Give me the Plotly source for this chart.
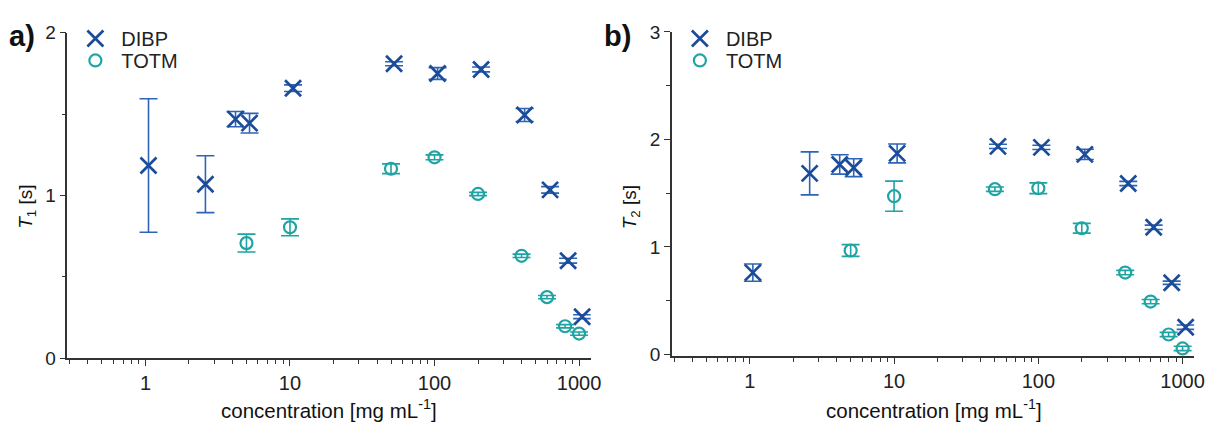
import plotly.graph_objects as go

# Concentrations [mg/mL]
dibp_conc = [1.05, 2.6, 4.2, 5.25, 10.5, 52.5, 105, 210, 420, 630, 840, 1050]
totm_conc = [5, 10, 50, 100, 200, 400, 600, 800, 1000]

# T1 relaxation times [s] with errors
dibp_t1 = [1.185, 1.07, 1.47, 1.445, 1.66, 1.81, 1.75, 1.775, 1.495, 1.035, 0.60, 0.256]
dibp_t1_err = [0.41, 0.175, 0.047, 0.06, 0.02, 0.012, 0.036, 0.015, 0.04, 0.02, 0.015, 0.012]
totm_t1 = [0.708, 0.805, 1.165, 1.235, 1.01, 0.63, 0.376, 0.197, 0.152]
totm_t1_err = [0.055, 0.052, 0.03, 0.015, 0.01, 0.01, 0.01, 0.01, 0.01]

# T2 relaxation times [s] with errors
dibp_t2 = [0.761, 1.684, 1.767, 1.737, 1.870, 1.935, 1.926, 1.861, 1.590, 1.183, 0.667, 0.254]
dibp_t2_err = [0.08, 0.20, 0.09, 0.083, 0.088, 0.02, 0.02, 0.047, 0.02, 0.02, 0.015, 0.02]
totm_t2 = [0.967, 1.472, 1.537, 1.546, 1.174, 0.762, 0.492, 0.186, 0.056]
totm_t2_err = [0.055, 0.14, 0.02, 0.05, 0.045, 0.02, 0.02, 0.02, 0.02]

x_tick_vals = [1, 10, 100, 1000]
x_tick_text = ["1", "10", "100", "1000"]

BLUE = "#1b4c9a"
BLUE_ERR = "#2e64b8"
TEAL = "#1fa3a3"
AXIS = "#333333"
FONT = "Liberation Sans, Arial, sans-serif"

W, H = 1222, 435

fig = go.Figure()


def add_series(x, y, err, name, xa, ya, legend, kind):
    if kind == "dibp":
        marker = dict(symbol="x-thin-open", size=16, color=BLUE,
                      line=dict(color=BLUE, width=2.7))
        ecol = BLUE_ERR
    else:
        marker = dict(symbol="circle-open", size=12, color=TEAL,
                      line=dict(color=TEAL, width=2.2))
        ecol = TEAL
    fig.add_trace(go.Scatter(
        x=x, y=y, mode="markers", name=name, marker=marker,
        error_y=dict(type="data", array=err, visible=True, color=ecol,
                     thickness=1.6, width=9),
        xaxis=xa, yaxis=ya, legend=legend, cliponaxis=False,
    ))


add_series(dibp_conc, dibp_t1, dibp_t1_err, "DIBP", "x", "y", "legend", "dibp")
add_series(totm_conc, totm_t1, totm_t1_err, "TOTM", "x", "y", "legend2", "totm")
add_series(dibp_conc, dibp_t2, dibp_t2_err, "DIBP", "x2", "y2", "legend3", "dibp")
add_series(totm_conc, totm_t2, totm_t2_err, "TOTM", "x2", "y2", "legend4", "totm")

xaxis_common = dict(
    type="log", range=[-0.54, 3.08], tickvals=x_tick_vals, ticktext=x_tick_text,
    showgrid=False, zeroline=False, showline=True, linecolor=AXIS, linewidth=1.5,
    ticks="outside", ticklen=6, tickwidth=1.3, tickcolor=AXIS,
    minor=dict(ticks="outside", ticklen=3.5, tickwidth=1, tickcolor=AXIS,
               tickvals=[m * 10 ** e for e in range(-1, 4) for m in range(2, 10)
                         if m * 10 ** e < 1200],
               showgrid=False),
    tickfont=dict(family=FONT, size=20, color="#222"),
)
yaxis_common = dict(
    showgrid=False, zeroline=False, showline=True, linecolor=AXIS, linewidth=1.5,
    ticks="outside", ticklen=6, tickwidth=1.3, tickcolor=AXIS, dtick=1,
    minor=dict(ticks="outside", ticklen=4, tickwidth=1, tickcolor=AXIS,
               dtick=0.5, showgrid=False),
    tickfont=dict(family=FONT, size=19, color="#222"),
)


def legend_at(px, py):
    return dict(x=px / W, y=1 - py / H, xanchor="left", yanchor="middle",
                bgcolor="rgba(0,0,0,0)", font=dict(family=FONT, size=20, color="#222"),
                itemwidth=42, borderwidth=0)


fig.update_layout(
    width=W, height=H,
    margin=dict(l=0, r=0, t=0, b=0),
    paper_bgcolor="white", plot_bgcolor="white",
    font=dict(family=FONT, size=19, color="#222"),
    xaxis=dict(**xaxis_common, domain=[68 / W, 596 / W], anchor="y"),
    yaxis=dict(**yaxis_common, range=[0, 2], domain=[1 - 366 / H, 1 - 24 / H],
               anchor="x"),
    xaxis2=dict(**xaxis_common, domain=[678 / W, 1205 / W], anchor="y2"),
    yaxis2=dict(**yaxis_common, range=[-0.018, 3],
                domain=[1 - 364 / H, 1 - 23 / H], anchor="x2"),
    legend=legend_at(70, 30),
    legend2=legend_at(70, 53),
    legend3=legend_at(680, 30),
    legend4=legend_at(680, 53),
    showlegend=True,
)

annotations = [
    dict(text="<b>a)</b>", x=7 / W, y=1 - 27 / H, font=dict(size=29)),
    dict(text="<b>b)</b>", x=607 / W, y=1 - 27 / H, font=dict(size=29)),
    dict(text="<i>T</i><sub>1</sub> [s]", x=27 / W, y=1 - 207 / H, textangle=-90,
         xanchor="center", font=dict(size=19)),
    dict(text="<i>T</i><sub>2</sub> [s]", x=637 / W, y=1 - 207 / H, textangle=-90,
         xanchor="center", font=dict(size=19)),
    dict(text="concentration [mg mL<sup>-1</sup>]", x=332 / W, y=1 - 419 / H,
         xanchor="center", font=dict(size=20.5)),
    dict(text="concentration [mg mL<sup>-1</sup>]", x=942 / W, y=1 - 419 / H,
         xanchor="center", font=dict(size=20.5)),
]
for a in annotations:
    a.setdefault("xanchor", "left")
    fig.add_annotation(xref="paper", yref="paper", showarrow=False,
                       yanchor="middle", font_family=FONT, font_color="#111",
                       **{k: v for k, v in a.items()})

fig.write_html("out.html")
